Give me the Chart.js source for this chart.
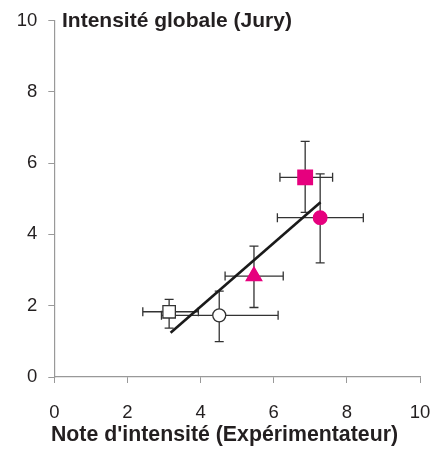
<!DOCTYPE html>
<html lang="fr">
<head>
    <meta charset="UTF-8">
    <title>Intensité globale</title>
    <script src="https://cdn.jsdelivr.net/npm/chart.js@4.4.0/dist/chart.umd.min.js"></script>
    <style>
        html, body { margin: 0; padding: 0; background: #fff; }
        #wrap { width: 434px; height: 455px; }
    </style>
</head>
<body>
<div id="wrap"><canvas id="chart"></canvas></div>

<script>
    // produits (ordre : carré blanc, rond blanc, triangle, carré rose, rond rose)
    const xMean = [3.14, 4.51, 5.46, 6.86, 7.27];
    const yMean = [1.83, 1.73, 2.83, 5.60, 4.47];
    const xLow  = [2.42, 2.93, 4.67, 6.17, 6.10];
    const xHigh = [3.94, 6.12, 6.26, 7.61, 8.45];
    const yLow  = [1.37, 0.99, 1.95, 4.62, 3.20];
    const yHigh = [2.18, 2.41, 3.67, 6.61, 5.70];

    // droite de régression
    const lineX = [3.18, 7.28];
    const lineY = [1.24, 4.90];

    const axisTicks = [0, 2, 4, 6, 8, 10];
    const yTitle = 'Intensité globale (Jury)';
    const xTitle = "Note d'intensité (Expérimentateur)";

    const pink = '#e6007e';
    const dark = '#333333';
    const markers = [
        { style: 'rect', fill: '#ffffff', border: dark, r: 8.8 },
        { style: 'circle', fill: '#ffffff', border: dark, r: 6.5 },
        { style: 'triangle', fill: pink, border: pink, r: 9 },
        { style: 'rect', fill: pink, border: pink, r: 10.3 },
        { style: 'circle', fill: pink, border: pink, r: 6.8 }
    ];

    const errorBars = {
        id: 'errorBars',
        beforeDatasetsDraw(chart) {
            const ctx = chart.ctx;
            const xs = chart.scales.x, ys = chart.scales.y;
            const cap = 4.5;
            ctx.save();
            ctx.strokeStyle = dark;
            ctx.lineWidth = 1.3;
            for (let i = 0; i < xMean.length; i++) {
                const cx = xs.getPixelForValue(xMean[i]);
                const cy = ys.getPixelForValue(yMean[i]);
                const x1 = xs.getPixelForValue(xLow[i]);
                const x2 = xs.getPixelForValue(xHigh[i]);
                const y1 = ys.getPixelForValue(yLow[i]);
                const y2 = ys.getPixelForValue(yHigh[i]);
                ctx.beginPath();
                ctx.moveTo(x1, cy); ctx.lineTo(x2, cy);
                ctx.moveTo(x1, cy - cap); ctx.lineTo(x1, cy + cap);
                ctx.moveTo(x2, cy - cap); ctx.lineTo(x2, cy + cap);
                ctx.moveTo(cx, y1); ctx.lineTo(cx, y2);
                ctx.moveTo(cx - cap, y1); ctx.lineTo(cx + cap, y1);
                ctx.moveTo(cx - cap, y2); ctx.lineTo(cx + cap, y2);
                ctx.stroke();
            }
            ctx.restore();
        }
    };

    // titres des axes, placés comme sur la figure d'origine
    const axisTitles = {
        id: 'axisTitles',
        afterDraw(chart) {
            const ctx = chart.ctx;
            ctx.save();
            ctx.fillStyle = '#231f20';
            ctx.textBaseline = 'middle';
            ctx.font = 'bold 21px "Liberation Sans", Arial, sans-serif';
            ctx.textAlign = 'left';
            ctx.fillText(yTitle, 62, 21);
            ctx.font = 'bold 21.3px "Liberation Sans", Arial, sans-serif';
            ctx.textAlign = 'center';
            ctx.fillText(xTitle, 224.5, 435);
            ctx.restore();
        }
    };

    const datasets = [{
        type: 'line',
        data: lineX.map((x, i) => ({ x: x, y: lineY[i] })),
        borderColor: '#1a1a1a',
        borderWidth: 2.6,
        pointRadius: 0,
        fill: false,
        order: 10
    }];
    xMean.forEach((x, i) => {
        datasets.push({
            type: 'scatter',
            data: [{ x: x, y: yMean[i] }],
            pointStyle: markers[i].style,
            pointRadius: markers[i].r,
            pointBackgroundColor: markers[i].fill,
            pointBorderColor: markers[i].border,
            pointBorderWidth: 1.3,
            order: 1
        });
    });

    const tickFont = { family: '"Liberation Sans", Arial, sans-serif', size: 18.5 };

    new Chart(document.getElementById('chart'), {
        data: { datasets: datasets },
        options: {
            responsive: true,
            maintainAspectRatio: false,
            animation: false,
            layout: { padding: { top: 20.5, right: 0, left: 0, bottom: 0 } },
            plugins: { legend: { display: false }, tooltip: { enabled: false } },
            scales: {
                x: {
                    type: 'linear',
                    min: 0, max: 10,
                    afterBuildTicks: s => { s.ticks = axisTicks.map(v => ({ value: v })); },
                    afterFit: s => { s.height = 78; s.paddingLeft = 0; s.paddingRight = 14; },
                    grid: { drawOnChartArea: false, drawTicks: true, tickLength: 6, color: '#999999' },
                    border: { display: true, color: '#999999', width: 1.2 },
                    ticks: { color: '#231f20', font: tickFont, padding: 19, maxRotation: 0 }
                },
                y: {
                    type: 'linear',
                    min: 0, max: 10,
                    afterBuildTicks: s => { s.ticks = axisTicks.map(v => ({ value: v })); },
                    afterFit: s => { s.width = 54.3; s.paddingTop = 0; s.paddingBottom = 0; },
                    grid: { drawOnChartArea: false, drawTicks: true, tickLength: 6, color: '#999999' },
                    border: { display: true, color: '#999999', width: 1.2 },
                    ticks: { color: '#231f20', font: tickFont, padding: 11 }
                }
            }
        },
        plugins: [errorBars, axisTitles]
    });
</script>
</body>
</html>
